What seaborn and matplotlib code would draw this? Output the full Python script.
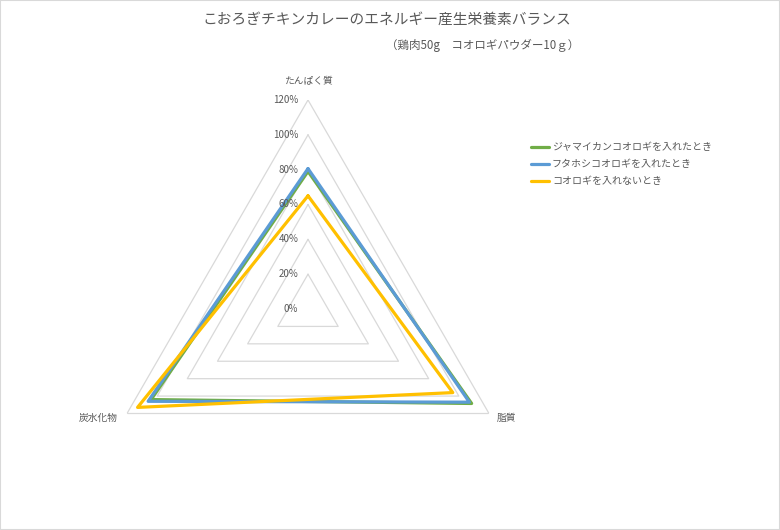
import numpy as np
import pandas as pd
import matplotlib
matplotlib.use("Agg")
import matplotlib.pyplot as plt
from matplotlib.patches import Rectangle
import seaborn as sns

nutrients = ["たんぱく質", "脂質", "炭水化物"]
series_names = [
    "ジャマイカンコオロギを入れたとき",
    "フタホシコオロギを入れたとき",
    "コオロギを入れないとき",
]
jamaica = [0.79, 1.085, 1.04]
futahoshi = [0.806, 1.07, 1.06]
no_cricket = [0.65, 0.96, 1.13]
ring_levels = [0.2, 0.4, 0.6, 0.8, 1.0, 1.2]
tick_levels = [0.0, 0.2, 0.4, 0.6, 0.8, 1.0, 1.2]
colors = ["#70AD47", "#5B9BD5", "#FFC000"]
grey_text = "#595959"

sns.set_theme(style="white")
plt.rcParams["font.family"] = ["Noto Sans CJK JP", "DejaVu Sans"]

n = len(nutrients)
angles = [2 * np.pi * i / n for i in range(n)] + [2 * np.pi]

# long-form table, each series closed back to the first axis
rows = []
for name, vals in zip(series_names, [jamaica, futahoshi, no_cricket]):
    for a, v in zip(angles, vals + vals[:1]):
        rows.append({"theta": a, "value": v, "series": name})
df = pd.DataFrame(rows)

fig = plt.figure(figsize=(7.8, 5.3), dpi=100)
ax = fig.add_axes([99 / 780, 12 / 530, 418 / 780, 418 / 530], projection="polar")
ax.set_theta_zero_location("N")
ax.set_theta_direction(-1)

# polygon gridlines like an Excel radar
for lv in ring_levels:
    ax.plot(angles, [lv] * len(angles), color="#d9d9d9", lw=0.9, zorder=1)

sns.lineplot(data=df, x="theta", y="value", hue="series", palette=colors,
             sort=False, estimator=None, lw=2.3, ax=ax, zorder=3)

ax.set_rlim(0, 1.2)
ax.grid(False)
ax.spines["polar"].set_visible(False)
ax.set_xticks([])
ax.set_yticks([])
ax.set_xlabel("")
ax.set_ylabel("")
ax.set_facecolor("none")

for lv in tick_levels:
    ax.annotate(f"{lv:.0%}", xy=(0, lv), xytext=(-7, 0), textcoords="offset points",
                ha="right", va="center", fontsize=7, color=grey_text,
                annotation_clip=False)

label_offsets = [(0, 13.5, "center"), (5.5, -3.2, "left"), (-6.5, -3.0, "right")]
for a, name, (dx, dy, ha) in zip(angles, nutrients, label_offsets):
    ax.annotate(name, xy=(a, 1.2), xytext=(dx, dy), textcoords="offset points",
                ha=ha, va="center", fontsize=7, color=grey_text,
                annotation_clip=False)

handles, labels = ax.get_legend_handles_labels()
ax.get_legend().remove()
leg = fig.legend(handles, labels, loc="upper left",
                 bbox_to_anchor=(522 / 780, 1 - 133 / 530), frameon=False,
                 fontsize=7.2, handlelength=1.8, handletextpad=0.3,
                 labelspacing=0.7)
for t in leg.get_texts():
    t.set_color(grey_text)

fig.text(386.5 / 780, 1 - 20 / 530, "こおろぎチキンカレーのエネルギー産生栄養素バランス",
         ha="center", va="center", fontsize=10.6, color=grey_text)
fig.text(483 / 780, 1 - 45 / 530, "（鶏肉50g　コオロギパウダー10ｇ）",
         ha="center", va="center", fontsize=8.3, color=grey_text)

fig.patches.append(Rectangle((0, 0), 1, 1, transform=fig.transFigure, fill=False,
                             edgecolor="#d9d9d9", lw=1.5))

fig.savefig("out.png", dpi=100, facecolor="white")
